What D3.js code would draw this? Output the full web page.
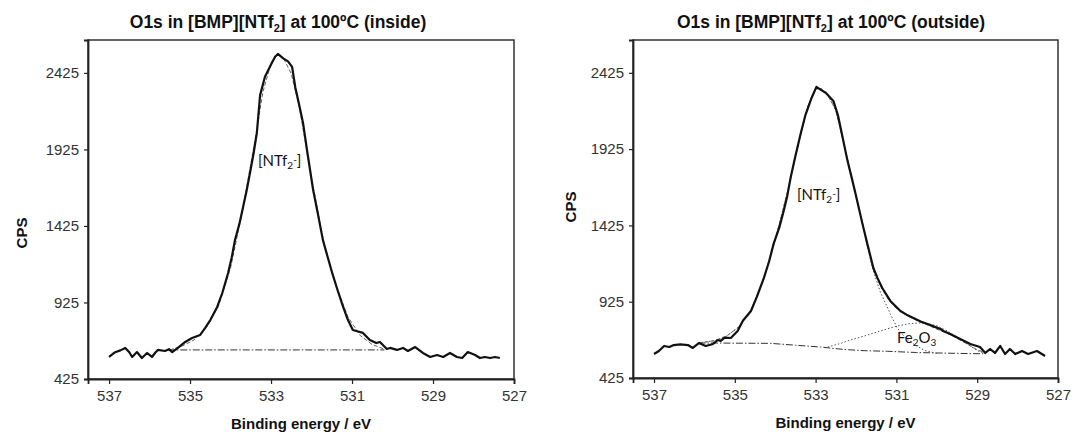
<!DOCTYPE html>
<html><head><meta charset="utf-8">
<script src="https://cdn.jsdelivr.net/npm/d3@7"></script>
<style>body{margin:0;background:#fff}</style>
</head><body><svg id="c" width="1079" height="443"></svg>
<script>
// ---------- data ----------
const xTicks = [537, 535, 533, 531, 529, 527];
const yTicks = [425, 925, 1425, 1925, 2425];
const xDomain = [537.52, 527];
const yDomain = [425, 2640];

// inside: measured spectrum
const insideEnergy = [537.00,536.85,536.72,536.60,536.50,536.43,536.31,536.19,536.06,535.94,535.85,535.79,535.62,535.52,535.44,535.30,535.12,534.95,534.75,534.63,534.50,534.33,534.20,534.06,533.97,533.89,533.78,533.69,533.60,533.52,533.43,533.35,533.27,533.15,533.00,532.90,532.83,532.70,532.58,532.48,532.40,532.30,532.21,532.10,531.96,531.84,531.72,531.60,531.49,531.35,531.22,531.10,530.98,530.85,530.73,530.56,530.40,530.31,530.14,530.06,529.89,529.74,529.62,529.44,529.25,529.07,528.90,528.75,528.58,528.41,528.28,528.14,527.96,527.84,527.72,527.59,527.47,527.35];
const insideCps = [569,600,612,628,600,569,601,562,595,569,600,615,608,620,601,628,667,693,713,758,810,896,990,1118,1220,1333,1440,1549,1660,1771,1900,2033,2280,2400,2480,2530,2549,2520,2500,2464,2330,2210,2098,1900,1660,1500,1334,1220,1118,1000,896,810,745,735,726,680,660,667,621,628,615,628,608,634,595,569,582,569,595,569,562,601,582,562,569,562,569,562];
// inside: fitted envelope
const insideFitEnergy = [535.50,535.20,534.90,534.60,534.30,534.00,533.70,533.40,533.20,533.00,532.85,532.70,532.50,532.30,532.00,531.70,531.40,531.10,530.80,530.50,530.20];
const insideFit = [615,640,680,760,900,1150,1530,1980,2300,2490,2545,2525,2420,2200,1740,1320,1040,830,710,650,620];
// inside: background
const insideBgEnergy = [535.55, 530.20];
const insideBg = [615, 615];

// outside: measured spectrum
const outsideEnergy = [537.00,536.88,536.75,536.62,536.51,536.35,536.16,536.04,535.89,535.72,535.54,535.42,535.35,535.25,535.10,534.93,534.80,534.60,534.45,534.28,534.15,534.04,533.90,533.79,533.70,533.62,533.50,533.37,533.25,533.10,532.98,532.85,532.75,532.56,532.45,532.38,532.21,532.10,532.01,531.84,531.72,531.57,531.47,531.35,531.15,531.00,530.90,530.75,530.58,530.40,530.23,530.05,529.91,529.84,529.67,529.42,529.17,528.93,528.80,528.68,528.56,528.43,528.31,528.19,528.06,527.89,527.74,527.52,527.32];
const outsideCps = [582,602,635,628,641,645,641,622,654,635,648,674,668,690,687,733,800,864,960,1081,1190,1304,1410,1520,1620,1736,1880,2025,2150,2260,2333,2310,2294,2241,2150,2064,1848,1730,1631,1435,1304,1146,1081,1015,930,890,864,840,818,795,779,760,746,733,713,681,648,628,589,615,589,635,582,615,582,602,582,602,569];
// outside: fitted envelope
const outsideFitEnergy = [535.90,535.50,535.20,534.90,534.60,534.30,534.00,533.70,533.40,533.20,533.00,532.85,532.70,532.50,532.30,532.00,531.80,531.60,531.40,531.20,531.00,530.80,530.60,530.40,530.20,530.00,529.80,529.60,529.40,529.20,529.00,528.85];
const outsideFit = [654,670,700,760,870,1060,1330,1640,1990,2200,2320,2320,2280,2180,1960,1620,1400,1170,1030,940,880,845,815,790,770,745,725,700,670,640,610,595];
// outside: [NTf2-] component
const ntfEnergy = [535.90,535.50,535.20,534.90,534.60,534.30,534.00,533.70,533.40,533.20,533.00,532.85,532.70,532.50,532.30,532.00,531.80,531.60,531.40,531.15,530.98,530.80,530.58,530.30,529.99];
const ntfCps = [654,670,700,760,870,1060,1330,1640,1990,2200,2320,2320,2280,2180,1960,1620,1390,1150,990,845,753,695,648,605,585];
// outside: Fe2O3 component
const feEnergy = [532.70,532.40,532.21,531.80,531.40,530.98,530.70,530.41,530.20,529.99,529.75,529.54,529.35,529.17,529.00,528.85];
const feCps = [628,650,668,700,733,766,780,786,780,766,735,700,665,635,605,589];
// outside: background
const outsideBgEnergy = [535.90,535.40,534.80,534.11,533.50,532.88,532.30,531.80,531.22,530.50,529.80,529.20,528.85];
const outsideBg = [654,654,653,652,640,628,612,604,600,592,588,585,584];

// ---------- drawing ----------
const svg = d3.select("#c");
const FONT = "'Liberation Sans', Arial, sans-serif";
const NOTE = "Lato, 'Open Sans', sans-serif";

function zip(a, b) { return a.map((v, i) => [v, b[i]]); }

function panel(cfg) {
  const x = d3.scaleLinear().domain(xDomain).range([cfg.left, cfg.right]);
  const y = d3.scaleLinear().domain(yDomain).range([cfg.bottom, cfg.top]);
  const g = svg.append("g");

  g.append("rect").attr("x", cfg.left).attr("y", cfg.top)
    .attr("width", cfg.right - cfg.left).attr("height", cfg.bottom - cfg.top)
    .attr("fill", "none").attr("stroke", "#333").attr("stroke-width", 1.5);

  const ax = g.append("g").attr("transform", `translate(0,${cfg.bottom})`)
    .call(d3.axisBottom(x).tickValues(xTicks).tickSize(5).tickPadding(6).tickFormat(d3.format("d")));
  const ay = g.append("g").attr("transform", `translate(${cfg.left},0)`)
    .call(d3.axisLeft(y).tickValues(yTicks).tickSize(4).tickPadding(5).tickFormat(d3.format("d")));
  [ax, ay].forEach(a => {
    a.select(".domain").attr("stroke", "#222").attr("stroke-width", 1.8);
    a.selectAll(".tick line").attr("stroke", "#222").attr("stroke-width", 1.2);
    a.selectAll(".tick text").attr("font-family", FONT).attr("font-size", 15).attr("fill", "#333");
  });

  const line = d3.line().x(d => x(d[0])).y(d => y(d[1]));
  cfg.series.forEach(s => {
    g.append("path").attr("d", line(zip(s.e, s.v)))
      .attr("fill", "none").attr("stroke", s.color)
      .attr("stroke-width", s.w).attr("stroke-dasharray", s.dash || null)
      .attr("stroke-linejoin", "round");
  });

  const t = g.append("text").attr("x", cfg.titleX).attr("y", 28)
    .attr("text-anchor", "middle").attr("font-family", FONT)
    .attr("font-size", 17.5).attr("font-weight", "bold").attr("fill", "#111");
  t.append("tspan").text("O1s in [BMP][NTf");
  t.append("tspan").text("2").attr("font-size", 11).attr("dy", 4);
  t.append("tspan").text("] at 100ºC (" + cfg.tag + ")").attr("dy", -4);

  g.append("text").attr("x", (cfg.left + cfg.right) / 2).attr("y", cfg.bottom + 50)
    .attr("text-anchor", "middle").attr("font-family", FONT).attr("font-size", 15)
    .attr("font-weight", "bold").attr("fill", "#111").text("Binding energy / eV");
  g.append("text").attr("transform", `translate(${cfg.cpsX},${cfg.cpsY}) rotate(-90)`)
    .attr("text-anchor", "middle").attr("font-family", FONT).attr("font-size", 15)
    .attr("font-weight", "bold").attr("fill", "#111").text("CPS");

  cfg.notes.forEach(n => {
    const tx = g.append("text").attr("x", n.x).attr("y", n.y)
      .attr("font-family", NOTE).attr("font-size", 15).attr("fill", "#111");
    n.parts.forEach(p => {
      const sp = tx.append("tspan").text(p.t);
      if (p.sub) sp.attr("font-size", 10).attr("dy", 3);
      if (p.sup) sp.attr("font-size", 10).attr("dy", -6);
      if (p.back) sp.attr("dy", p.back);
    });
  });
}

panel({
  left: 88, right: 514, top: 40, bottom: 379, titleX: 278, tag: "inside",
  cpsX: 27, cpsY: 233,
  series: [
    { e: insideBgEnergy, v: insideBg, color: "#333", w: 1, dash: "7,2,1.5,2" },
    { e: insideFitEnergy, v: insideFit, color: "#666", w: 1, dash: "4,2" },
    { e: insideEnergy, v: insideCps, color: "#111", w: 2.2 }
  ],
  notes: [
    { x: 258, y: 166, parts: [{ t: "[NTf" }, { t: "2", sub: true }, { t: "-", sup: true }, { t: "]", back: 3 }] }
  ]
});

panel({
  left: 633, right: 1058, top: 40, bottom: 378, titleX: 831, tag: "outside",
  cpsX: 576, cpsY: 207,
  series: [
    { e: outsideBgEnergy, v: outsideBg, color: "#333", w: 1, dash: "7,2,1.5,2" },
    { e: ntfEnergy, v: ntfCps, color: "#555", w: 1, dash: "1.5,2" },
    { e: feEnergy, v: feCps, color: "#555", w: 1, dash: "1.5,2" },
    { e: outsideFitEnergy, v: outsideFit, color: "#666", w: 1, dash: "4,2" },
    { e: outsideEnergy, v: outsideCps, color: "#111", w: 2.2 }
  ],
  notes: [
    { x: 797, y: 200, parts: [{ t: "[NTf" }, { t: "2", sub: true }, { t: "-", sup: true }, { t: "]", back: 3 }] },
    { x: 897, y: 343, parts: [{ t: "Fe" }, { t: "2", sub: true }, { t: "O", back: -3 }, { t: "3", sub: true }] }
  ]
});
</script></body></html>
